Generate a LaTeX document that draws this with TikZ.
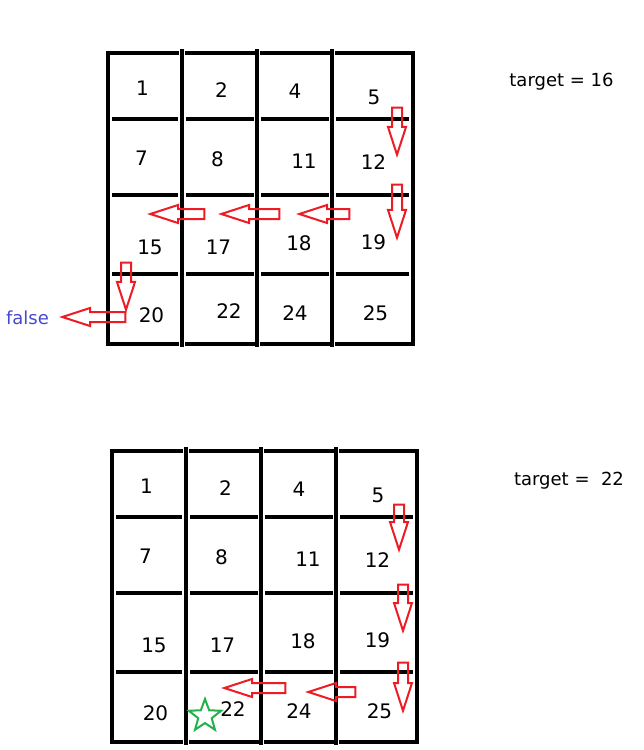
\documentclass[tikz,border=0pt]{standalone}
\usepackage{fontspec}
\setmainfont{DejaVu Sans}
\usepackage{tikz}
\usetikzlibrary{shapes.arrows, shapes.geometric}
\definecolor{arrowRed}{RGB}{237, 28, 36}
\definecolor{falseBlue}{RGB}{72, 72, 204}
\definecolor{starGreen}{RGB}{34, 177, 76}

\begin{document}
\begin{tikzpicture}[
  x=1pt, y=-1pt,
  every node/.style={font=\fontsize{20}{24}\selectfont},
  gridline/.style={line width=3.5pt},
  borderline/.style={gridline, line cap=rect},
  labeltext/.style={font=\fontsize{18}{21}\selectfont},
  blockarrow/.style={single arrow, draw=arrowRed, line width=2pt,
    inner xsep=0pt, inner ysep=4pt, minimum width=16pt,
    single arrow head extend=4pt, single arrow tip angle=36},
  arrowdown/.style={blockarrow, rotate=-90, minimum height=#1},
  arrowdown/.default=47,
  arrowleft/.style={blockarrow, rotate=180, minimum height=#1},
  arrowleft/.default=50
]
\useasboundingbox (0,0) rectangle (643,750);

\foreach \g/\dx/\dy in {t/0/0, b/4/398} {
  \begin{scope}[shift={(\dx,\dy)}]
    \draw[borderline] (108,53) -- (108,344) (413,53) -- (413,344);
    \foreach \x in {182,257,332}
      \draw[gridline] (\x,49) -- (\x,347);
    \foreach \y in {53,344}
      \foreach \a/\b in {108/177,187/253,262/328,337/413}
        \draw[borderline] (\a,\y) -- (\b,\y);
    \foreach \y in {119,195,274}
      \foreach \a/\b in {112/178,186/254,261/329,336/409}
        \draw[gridline] (\a,\y) -- (\b,\y);
    \foreach \n/\x/\y in {1/142.5/88, 2/221.5/90, 4/295/91, 5/374/97,
        7/141.5/158, 8/217.5/159, 11/304/161, 12/373.5/162,
        15/150/247, 17/218.5/247.5, 18/299/243.5, 19/373.5/242,
        20/151.5/315, 22/229/311, 24/295/313, 25/375.5/313}
      \node (\g\n) at (\x,\y) {\n};
  \end{scope}
}

\node[arrowdown=47] (tdownA) at (397,123.5) {};
\node[arrowdown=53] (tdownB) at (397,203.5) {};
\node[arrowleft=50] (tleftA) at (332,214) {};
\node[arrowleft=58] (tleftB) at (258,214) {};
\node[arrowleft=54] (tleftC) at (185,214) {};
\node[arrowdown=47] (tdownC) at (126,278.5) {};
\node[arrowleft=63] (tleftD) at (101.5,317) {};
\node[labeltext, text=falseBlue] (false) at (27.5,318) {false};
\node[labeltext] (targetA) at (561.5,82) {target = 16};

\node[arrowdown=45] (bdownA) at (399,519.5) {};
\node[arrowdown=46] (bdownB) at (403,600) {};
\node[arrowdown=48] (bdownC) at (403,679) {};
\node[arrowleft=47] (bleftA) at (339.5,692) {};
\node[arrowleft=61] (bleftB) at (262.5,688) {};
\node[star, star points=5, star point ratio=2.4, draw=starGreen,
  line width=2pt, inner sep=0pt, minimum size=34pt] (found) at (205,716) {};
\node[labeltext] (targetB) at (569,481) {target =\ \ 22};
\end{tikzpicture}
\end{document}
